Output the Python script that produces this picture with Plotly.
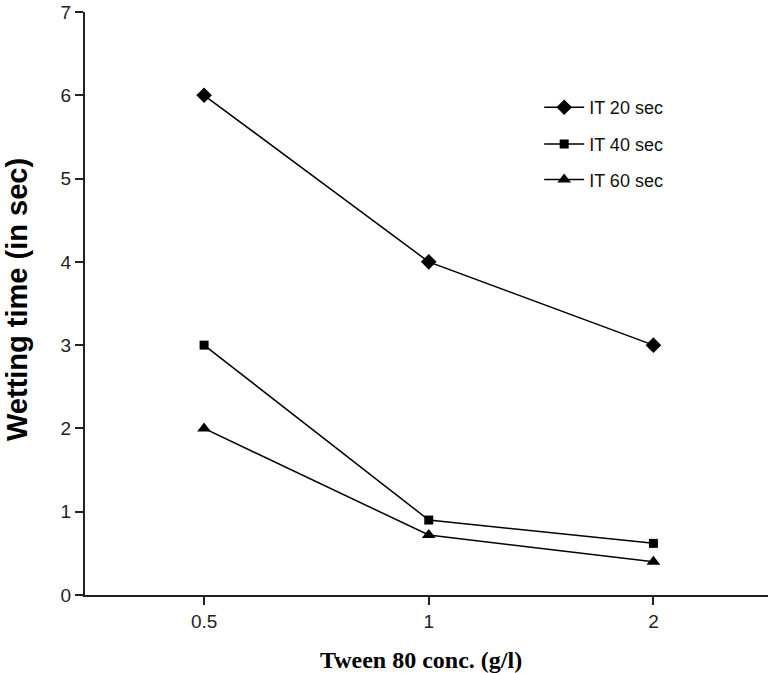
import plotly.graph_objects as go

categories = ["0.5", "1", "2"]
it20 = [6, 4, 3]
it40 = [3, 0.9, 0.62]
it60 = [2, 0.72, 0.4]
series_names = ["IT 20 sec", "IT 40 sec", "IT 60 sec"]
y_ticks = [0, 1, 2, 3, 4, 5, 6, 7]

fig = go.Figure()
specs = [
    (it20, series_names[0], "diamond", 12, "legend", 0.836),
    (it40, series_names[1], "square", 9, "legend2", 0.773),
    (it60, series_names[2], "triangle-up", 12, "legend3", 0.712),
]
for vals, name, sym, size, lg, _ in specs:
    fig.add_trace(go.Scatter(
        x=categories, y=vals, name=name, mode="lines+markers",
        line=dict(color="black", width=1.5),
        marker=dict(symbol=sym, size=size, color="black"),
        legend=lg,
    ))

legend_common = dict(
    x=0.665, xanchor="left", yanchor="middle",
    bgcolor="rgba(0,0,0,0)", borderwidth=0,
    font=dict(family="Arial, Liberation Sans, sans-serif", size=18, color="#111"),
    itemwidth=40, tracegroupgap=0,
)
layout_legends = {}
for _, _, _, _, lg, ypos in specs:
    layout_legends[lg] = dict(legend_common, y=ypos)

fig.update_layout(
    width=770, height=673,
    margin=dict(l=85, r=2, t=12, b=78),
    paper_bgcolor="white", plot_bgcolor="white",
    showlegend=True,
    **layout_legends,
    xaxis=dict(
        type="category", range=[-0.53, 2.51],
        showgrid=False, zeroline=False,
        showline=True, linecolor="#222", linewidth=2,
        ticks="outside", ticklen=8, tickwidth=1.5, tickcolor="#222",
        tickfont=dict(family="Arial, Liberation Sans, sans-serif", size=19, color="#222"),
    ),
    yaxis=dict(
        range=[0, 7], tickvals=y_ticks,
        showgrid=False, zeroline=False,
        showline=True, linecolor="#222", linewidth=2,
        ticks="outside", ticklen=8, tickwidth=1.5, tickcolor="#222",
        tickfont=dict(family="Arial, Liberation Sans, sans-serif", size=19, color="#222"),
    ),
    annotations=[
        dict(text="<b>Tween 80 conc. (g/l)</b>", xref="paper", yref="paper",
             x=(421 - 85) / 683, y=-0.111, xanchor="center", yanchor="middle",
             showarrow=False,
             font=dict(family="Times New Roman, Liberation Serif, serif", size=24, color="black")),
        dict(text="<b>Wetting time (in sec)</b>", xref="paper", yref="paper",
             x=(17 - 85) / 683, y=(595 - 300) / 583, xanchor="center", yanchor="middle",
             textangle=-90, showarrow=False,
             font=dict(family="Arial, Liberation Sans, sans-serif", size=29, color="black")),
    ],
)

fig.write_html("out.html", config={"displayModeBar": False},
               post_script="document.body.style.margin='0';")
